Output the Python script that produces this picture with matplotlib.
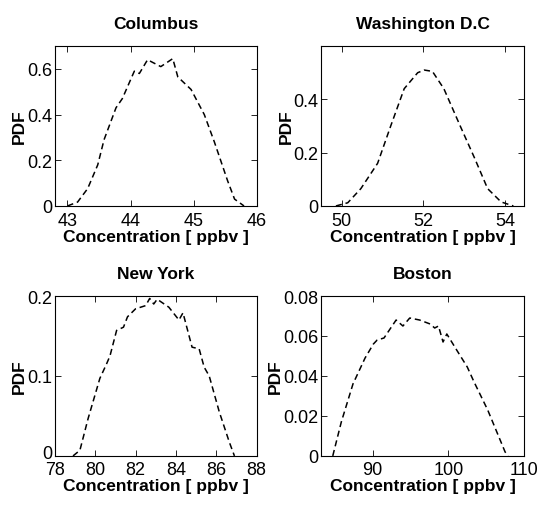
import matplotlib
matplotlib.use("Agg")
import matplotlib.pyplot as plt
import matplotlib.transforms as mtransforms
from matplotlib import font_manager

names = set(f.name for f in font_manager.fontManager.ttflist)
narrow = "Liberation Sans Narrow" if "Liberation Sans Narrow" in names else "Liberation Sans"
plt.rcParams['font.family'] = [narrow, 'DejaVu Sans']

# Columbus
col_x = [43.0, 43.16, 43.32, 43.48, 43.58, 43.77, 43.87, 44.06, 44.14, 44.27, 44.48,
         44.67, 44.75, 44.96, 45.17, 45.33, 45.54, 45.65, 45.8]
col_y = [0, 0.017, 0.076, 0.18, 0.29, 0.43, 0.47, 0.59, 0.58, 0.64, 0.61,
         0.645, 0.565, 0.51, 0.40, 0.28, 0.11, 0.03, 0]

# Washington D.C
dc_x = [49.86, 50.15, 50.47, 50.88, 51.2, 51.53, 51.86, 52.02, 52.22, 52.5, 52.9,
        53.25, 53.57, 53.9, 54.2]
dc_y = [0, 0.012, 0.065, 0.16, 0.30, 0.44, 0.50, 0.51, 0.505, 0.44, 0.30,
        0.18, 0.065, 0.015, 0]

# New York
ny_x = [78.9, 79.24, 79.65, 80.23, 80.56, 80.73, 81.06, 81.4, 81.6, 82.0, 82.5, 82.7,
        82.9, 83.07, 83.65, 84.15, 84.35, 84.8, 85.15, 85.4, 85.65, 86.15, 86.65, 86.9]
ny_y = [0, 0.007, 0.047, 0.097, 0.115, 0.125, 0.157, 0.161, 0.174, 0.184, 0.188, 0.197,
        0.19, 0.196, 0.186, 0.17, 0.179, 0.136, 0.134, 0.111, 0.10, 0.055, 0.017, 0]

# Boston
bos_x = [84.73, 85.86, 87.4, 89.0, 90.1, 90.6, 91.5, 93.1, 94.0, 94.9, 96.2, 97.6,
         98.2, 98.7, 99.3, 99.8, 101.1, 102.5, 103.4, 105.2, 107.5, 107.9]
bos_y = [0, 0.017, 0.036, 0.049, 0.056, 0.058, 0.059, 0.068, 0.065, 0.069, 0.068, 0.066,
         0.064, 0.065, 0.057, 0.061, 0.053, 0.0445, 0.037, 0.023, 0.002, 0]

panels = [
    ("Columbus", col_x, col_y, (42.8, 46), (0, 0.7), [43, 44, 45, 46], [0, 0.2, 0.4, 0.6], ["0", "0.2", "0.4", "0.6"]),
    ("Washington D.C", dc_x, dc_y, (49.5, 54.46), (0, 0.6), [50, 52, 54], [0, 0.2, 0.4], ["0", "0.2", "0.4"]),
    ("New York", ny_x, ny_y, (78, 88), (0, 0.2), [78, 80, 82, 84, 86, 88], [0, 0.1, 0.2], ["0", "0.1", "0.2"]),
    ("Boston", bos_x, bos_y, (83.2, 110), (0, 0.08), [90, 100, 110], [0, 0.02, 0.04, 0.06, 0.08], ["0", "0.02", "0.04", "0.06", "0.08"]),
]

positions = [
    [0.102, 0.591, 0.375, 0.316],
    [0.597, 0.591, 0.377, 0.316],
    [0.102, 0.097, 0.375, 0.316],
    [0.597, 0.097, 0.377, 0.316],
]

fig = plt.figure(figsize=(5.38, 5.06), dpi=100)

for pos, (title, x, y, xl, yl, xt, yt, ytl) in zip(positions, panels):
    ax = fig.add_axes(pos)
    ax.plot(x, y, color='black', linestyle='--', linewidth=1.1, dashes=(4, 2.5))
    ax.set_xlim(xl)
    ax.set_ylim(yl)
    ax.set_xticks(xt)
    ax.set_xticklabels([str(t) for t in xt])
    ax.set_yticks(yt)
    ax.set_yticklabels(ytl)
    ax.tick_params(direction='in', top=True, right=True, labelsize=13, length=4, width=0.6)
    ax.tick_params(axis='x', pad=4)
    ax.tick_params(axis='y', pad=2)
    for s in ax.spines.values():
        s.set_linewidth(0.8)
    ax.set_title(title, fontsize=12.5, fontweight='bold', pad=13)
    ax.set_xlabel("Concentration [ ppbv ]", fontsize=12.5, fontweight='bold', labelpad=0)
    ax.set_ylabel("PDF", fontsize=12.5, fontweight='bold', labelpad=0)
    # the "0" on the y axis sits right on top of the first x label; lift it a touch
    if xt[0] == xl[0]:
        lab = ax.get_yticklabels()[0]
        lab.set_transform(lab.get_transform() + mtransforms.ScaledTranslation(0, 3 / 72, fig.dpi_scale_trans))

fig.savefig("out.png", dpi=100)
